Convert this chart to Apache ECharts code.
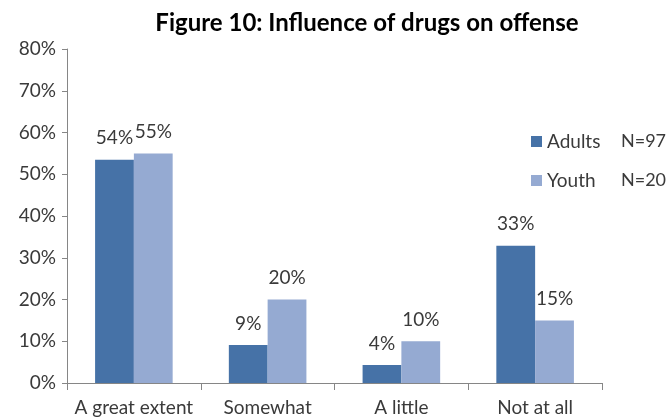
<!DOCTYPE html>
<html><head><meta charset="utf-8">
<script src="https://cdn.jsdelivr.net/npm/echarts@6/dist/echarts.min.js"></script>
<style>html,body{margin:0;padding:0;background:#fff}#c{width:671px;height:420px}</style>
</head><body><div id="c"></div>
<script>
const categories = ['A great extent', 'Somewhat', 'A little', 'Not at all'];
const adults = [53.5, 9.1, 4.3, 32.9];
const youth = [55.0, 20.0, 10.0, 15.0];
const seriesNames = ['Adults', 'Youth'];
const sampleSizes = ['N=97', 'N=20'];
const yTicks = [0, 10, 20, 30, 40, 50, 60, 70, 80];

const FONT = 'Lato';
const TXT = '#3a3a3a';
const FS = 19;
const chart = echarts.init(document.getElementById('c'), null, {renderer: 'canvas'});
const mkLabel = {
  show: true, position: 'top', distance: 12,
  fontFamily: FONT, fontSize: FS, color: TXT,
  formatter: p => Math.round(p.value) + '%'
};
chart.setOption({
  animation: false,
  title: {
    text: 'Figure 10: Influence of drugs on offense',
    left: 362, top: 6, textAlign: 'center',
    textStyle: {fontFamily: FONT, fontWeight: 'bold', fontSize: 24, color: '#000'}
  },
  legend: {
    orient: 'vertical', left: 526, top: 127, itemGap: 20,
    itemWidth: 11, itemHeight: 11, icon: 'rect',
    textStyle: {fontFamily: FONT, fontSize: FS, color: TXT,
      rich: {a: {fontFamily: FONT, fontSize: FS, color: TXT, width: 74},
             b: {fontFamily: FONT, fontSize: 18, color: TXT}}},
    formatter: name => '{a|' + name + '}{b|' + sampleSizes[seriesNames.indexOf(name)] + '}',
    data: seriesNames
  },
  grid: {left: 67, right: 69, top: 49, bottom: 37},
  xAxis: {
    type: 'category', data: categories,
    axisLine: {lineStyle: {color: '#868686'}},
    axisTick: {show: true, length: 7, lineStyle: {color: '#868686'}},
    axisLabel: {fontFamily: FONT, fontSize: FS, color: TXT, margin: 15, interval: 0}
  },
  yAxis: {
    type: 'value', min: yTicks[0], max: yTicks[yTicks.length - 1], interval: 10,
    axisLine: {show: true, lineStyle: {color: '#868686'}},
    axisTick: {show: true, length: 5, lineStyle: {color: '#868686'}},
    splitLine: {show: false},
    axisLabel: {fontFamily: FONT, fontSize: FS, color: TXT, margin: 11, formatter: v => v + '%'}
  },
  series: [
    {name: seriesNames[0], type: 'bar', data: adults, barGap: '0%', barCategoryGap: '42%',
     itemStyle: {color: '#4672a7'}, label: mkLabel},
    {name: seriesNames[1], type: 'bar', data: youth,
     itemStyle: {color: '#95aad2'}, label: mkLabel}
  ]
});
</script></body></html>
